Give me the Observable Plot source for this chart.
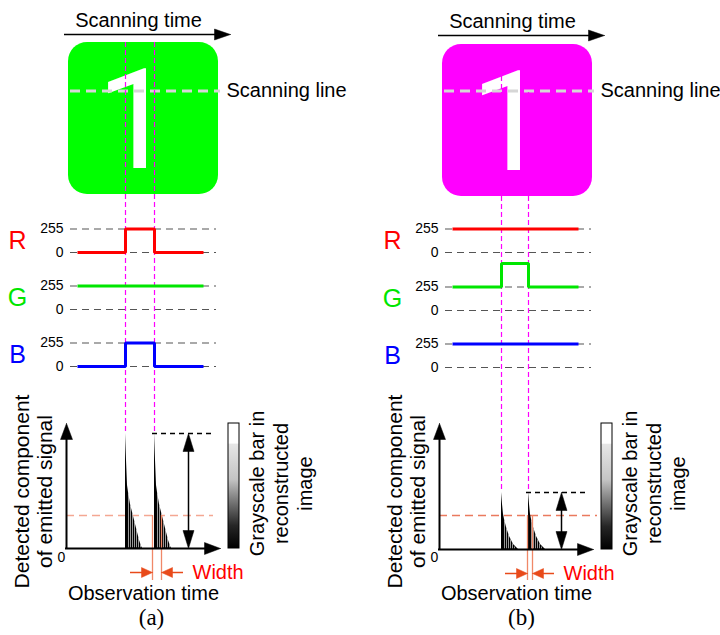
<!DOCTYPE html>
<html><head><meta charset="utf-8">
<script src="https://cdn.jsdelivr.net/npm/d3@7"></script>
<script src="https://cdn.jsdelivr.net/npm/@observablehq/plot@0.6"></script>
<style>body{margin:0;background:#fff}#chart{width:720px;height:635px}</style>
</head><body><div id="chart"></div>
<script>
// ---------------- data ----------------
const panelLabels = ["(a)", "(b)"];
const imageColors = ["#00ff00", "#ff00ff"];
const channels = ["R", "G", "B"];
const channelColors = ["#ff0000", "#00e600", "#0000ff"];
const levelTicks = [0, 255];
// channel value outside the "1" (base) and inside it (pulse)
const baseValuesA = [0, 255, 0];
const pulseValuesA = [255, 255, 255];
const baseValuesB = [255, 255, 255];
const pulseValuesB = [255, 510, 255];
// scanning time: trace length and the two edges of the "1"
const traceLength = 126;
const pulseA = [48, 77];
const pulseB = [49, 76];
// detected emitted signal after each edge (one value per time step)
const decayA = [115, 88, 63, 56, 50, 44, 40, 36, 32, 28, 24, 20, 16, 12, 8, 5, 2, 0];
const decayB = [57, 45, 35, 30, 26, 22, 19, 16, 13, 11, 9, 7, 5, 4, 3, 2, 1, 0];
const thresholds = [33, 34];
const widthEdgesA = [-2, 7];
const widthEdgesB = [-1, 4];
const hatchSteps = [3, 5, 7, 9, 11, 13, 15];
const grayStops = [[0, "#ffffff"], [0.16, "#ffffff"], [0.17, "#e6e6e6"], [0.45, "#c4c4c4"], [0.62, "#7a7a7a"], [0.82, "#262626"], [1, "#000000"]];
const texts = {
  scanTime: "Scanning time", scanLine: "Scanning line", digit: "1",
  yLabel: "Detected component\nof emitted signal",
  barLabel: "Grayscale bar in\nreconstructed\nimage",
  xLabel: "Observation time", width: "Width", zero: "0"
};

// ---------------- layout ----------------
const W = 720, H = 635;
const L = panelLabels.map((lab, p) => ({
  p, lab,
  sqX: [68, 442][p], sqY: [42, 44][p],
  arrowY: [34, 35][p],
  t0: [77, 452][p],
  rowBase: [[252, 309, 366], [252, 310, 367]][p],
  ox: [66, 439][p], oy: [548, 549][p],
  pulse: [pulseA, pulseB][p],
  base: [baseValuesA, baseValuesB][p],
  high: [pulseValuesA, pulseValuesB][p],
  decay: [decayA, decayB][p],
  thr: thresholds[p],
  wEdges: [widthEdgesA, widthEdgesB][p],
  thrEnd: [147, 158][p],
  wArrowY: [572, 573][p],
  labX: [151, 521][p],
  thrColor: ["#f4a792", "#ea7a5e"][p]
}));
const lvl = (l, i, v) => l.rowBase[i] - v / 255 * 23.5;

function head(tx, ty, dir, len, hw, id) {
  const [ux, uy] = {right: [1, 0], left: [-1, 0], up: [0, -1], down: [0, 1]}[dir];
  const bx = tx - ux * len, by = ty - uy * len;
  const px = -uy * hw, py = ux * hw;
  return [{x: tx, y: ty, id}, {x: bx + px, y: by + py, id}, {x: bx - px, y: by - py, id}, {x: tx, y: ty, id}];
}

const blackHeads = [], orangeHeads = [];
const hRules = [], vRules = [], txtMid = [], txtStart = [], txtEnd = [];
const traces = [], levels = [], areas = [], hatch = [], magenta = [], peakLines = [], thrLines = [], wLines = [], wShafts = [];
const squares = [], scanLines = [], bars = [];

L.forEach(l => {
  const k = l.p;
  // top arrow
  hRules.push({y: l.arrowY, x1: l.sqX - 4, x2: l.sqX + 150, w: 1.5});
  blackHeads.push(...head(l.sqX + 162, l.arrowY, "right", 16, 5.5, "ta" + k));
  txtMid.push({x: l.sqX + 70, y: l.arrowY - 14, t: texts.scanTime, size: 20});
  squares.push({x1: l.sqX, x2: l.sqX + 150, y1: l.sqY, y2: l.sqY + 152, c: imageColors[k]});
  scanLines.push({y: 90.5, x1: l.sqX + 2, x2: l.sqX + 152});
  txtStart.push({x: l.sqX + 158, y: 90.5, t: texts.scanLine, size: 20});
  // magenta guides
  l.pulse.forEach(t => magenta.push({x: l.t0 + t, y1: l.sqY, y2: l.oy - l.decay[0]}));
  // channel rows
  channels.forEach((ch, i) => {
    levelTicks.forEach(v => {
      levels.push({y: lvl(l, i, v), x1: l.t0 - 7, x2: l.t0 + 139});
      txtEnd.push({x: l.t0 - 14, y: lvl(l, i, v), t: String(v), size: 14});
    });
    txtMid.push({x: l.t0 - 60, y: l.rowBase[i] - 12, t: ch, size: 25, fill: channelColors[i]});
    const id = k + ch;
    [[0, l.base[i]], [l.pulse[0], l.high[i]], [l.pulse[1], l.base[i]], [traceLength, l.base[i]]]
      .forEach(([t, v]) => traces.push({x: l.t0 + t, y: lvl(l, i, v), id, c: channelColors[i]}));
  });
  // observation axes
  vRules.push({x: l.ox, y1: l.oy + 1, y2: 437, w: 2});
  blackHeads.push(...head(l.ox, 423, "up", 16, 6, "ya" + k));
  hRules.push({y: l.oy, x1: l.ox - 1, x2: l.ox + 140, w: 2});
  blackHeads.push(...head(l.ox + 154, l.oy, "right", 16, 6, "xa" + k));
  // decays
  l.pulse.forEach((t, e) => {
    const px = l.t0 + t;
    l.decay.forEach((v, i) => areas.push({x: px + i, b: l.oy, t: l.oy - v, id: k + "d" + e}));
    hatchSteps.forEach(i => { if (l.decay[i] > 1) hatch.push({x: px + i, b: l.oy - 0.5, t: l.oy - l.decay[i] + 1.5}); });
  });
  const p2 = l.t0 + l.pulse[1];
  const top = l.oy - l.decay[0];
  peakLines.push({y: top, x1: p2 - 2, x2: l.ox + 147});
  // double arrow
  const dx = l.ox + 122;
  vRules.push({x: dx, y1: top + 15, y2: l.oy - 15, w: 1.5});
  blackHeads.push(...head(dx, top, "up", 18, 5.5, "du" + k));
  blackHeads.push(...head(dx, l.oy, "down", 18, 5.5, "dd" + k));
  // threshold & width
  thrLines.push({y: l.oy - l.thr, x1: l.ox, x2: l.ox + l.thrEnd, c: l.thrColor});
  const w0 = p2 + l.wEdges[0], w1 = p2 + l.wEdges[1];
  [w0, w1].forEach(x => wLines.push({x, y1: l.oy - l.thr, y2: 580}));
  wShafts.push({y: l.wArrowY, x1: w0 - 22, x2: w0 - 8}, {y: l.wArrowY, x1: w1 + 8, x2: w1 + 22});
  orangeHeads.push(...head(w0, l.wArrowY, "right", 11, 5, "wl" + k), ...head(w1, l.wArrowY, "left", 11, 5, "wr" + k));
  txtStart.push({x: w1 + 31, y: l.wArrowY, t: texts.width, size: 20, fill: "#ff0000"});
  txtMid.push({x: l.ox + 77, y: 593, t: texts.xLabel, size: 20});
  txtMid.push({x: l.ox - 5, y: 557, t: texts.zero, size: 14});
  // gray bar
  bars.push({x1: l.ox + 162, x2: l.ox + 173, y1: 423, y2: l.oy});
});

const yLabels = L.map(l => ({x: l.ox - 33, y: 491, t: texts.yLabel}));
const barLabels = L.map(l => ({x: l.ox + 214, y: 483, t: texts.barLabel}));

const sans = "Liberation Sans, Arial, Helvetica, sans-serif";
const textMark = (data, anchor) => Plot.text(data, {x: "x", y: "y", text: "t", fontSize: d => d.size, textAnchor: anchor, fill: d => d.fill || "black", fontFamily: sans});
const svg = Plot.plot({
  width: W, height: H, margin: 0,
  x: {domain: [0, W], range: [0, W], axis: null},
  y: {domain: [0, H], range: [0, H], axis: null},
  color: {type: "identity"},
  style: {fontFamily: sans, background: "#fff"},
  marks: [
    Plot.rect(squares, {x1: "x1", x2: "x2", y1: "y1", y2: "y2", fill: d => d.c, rx: 19}),
    Plot.text(L, {x: l => l.sqX + 67, y: l => l.sqY + 125, text: () => texts.digit, fill: "white", fontSize: 139, textAnchor: "middle", lineAnchor: "bottom", fontFamily: "Roboto, sans-serif"}),
    Plot.ruleY(scanLines, {y: "y", x1: "x1", x2: "x2", stroke: "#d6d6d6", strokeWidth: 3, strokeDasharray: "10,6"}),
    Plot.ruleY(levels, {y: "y", x1: "x1", x2: "x2", stroke: "#555", strokeWidth: 1.2, strokeDasharray: "7,5"}),
    Plot.ruleX(magenta, {x: "x", y1: "y1", y2: "y2", stroke: "#ff00ff", strokeWidth: 1.2, strokeDasharray: "5,3"}),
    Plot.line(traces, {x: "x", y: "y", z: "id", stroke: d => d.c, strokeWidth: 3, curve: "step-after", strokeLinecap: "butt", strokeLinejoin: "miter"}),
    Plot.ruleY(thrLines, {y: "y", x1: "x1", x2: "x2", stroke: d => d.c, strokeWidth: 1.4, strokeDasharray: "8,5"}),
    Plot.area(areas, {x1: "x", y1: "b", y2: "t", z: "id", fill: "black", curve: "linear"}),
    Plot.ruleX(hatch, {x: "x", y1: "b", y2: "t", stroke: "white", strokeWidth: 0.6}),
    Plot.ruleY(peakLines, {y: "y", x1: "x1", x2: "x2", stroke: "black", strokeWidth: 1.5, strokeDasharray: "5,4"}),
    Plot.ruleX(wLines, {x: "x", y1: "y1", y2: "y2", stroke: "#f08868", strokeWidth: 1.3}),
    Plot.ruleY(wShafts, {y: "y", x1: "x1", x2: "x2", stroke: "#e84a1a", strokeWidth: 1.5}),
    Plot.line(orangeHeads, {x: "x", y: "y", z: "id", fill: "#e84a1a", stroke: "#e84a1a", strokeWidth: 0.5}),
    Plot.ruleY(hRules, {y: "y", x1: "x1", x2: "x2", stroke: "black", strokeWidth: d => d.w}),
    Plot.ruleX(vRules, {x: "x", y1: "y1", y2: "y2", stroke: "black", strokeWidth: d => d.w}),
    Plot.line(blackHeads, {x: "x", y: "y", z: "id", fill: "black", stroke: "black", strokeWidth: 0.5}),
    Plot.rect(bars, {x1: "x1", x2: "x2", y1: "y1", y2: "y2", fill: "url(#grayGrad)", stroke: "black", strokeWidth: 1}),
    textMark(txtMid, "middle"),
    textMark(txtStart, "start"),
    textMark(txtEnd, "end"),
    Plot.text(yLabels, {x: "x", y: "y", text: "t", fontSize: 21, rotate: -90, lineHeight: 1.1, fill: "black", fontFamily: sans}),
    Plot.text(barLabels, {x: "x", y: "y", text: "t", fontSize: 20, rotate: -90, lineHeight: 1.2, fill: "black", fontFamily: sans}),
    Plot.text(L, {x: "labX", y: 617, text: "lab", fontSize: 23, fill: "black", fontFamily: "Liberation Serif, Times New Roman, serif"})
  ]
});
const g = d3.select(svg).insert("defs", ":first-child").append("linearGradient")
  .attr("id", "grayGrad").attr("x1", 0).attr("y1", 0).attr("x2", 0).attr("y2", 1);
g.selectAll("stop").data(grayStops).join("stop").attr("offset", d => d[0]).attr("stop-color", d => d[1]);
document.getElementById("chart").appendChild(svg);
</script>
</body></html>
